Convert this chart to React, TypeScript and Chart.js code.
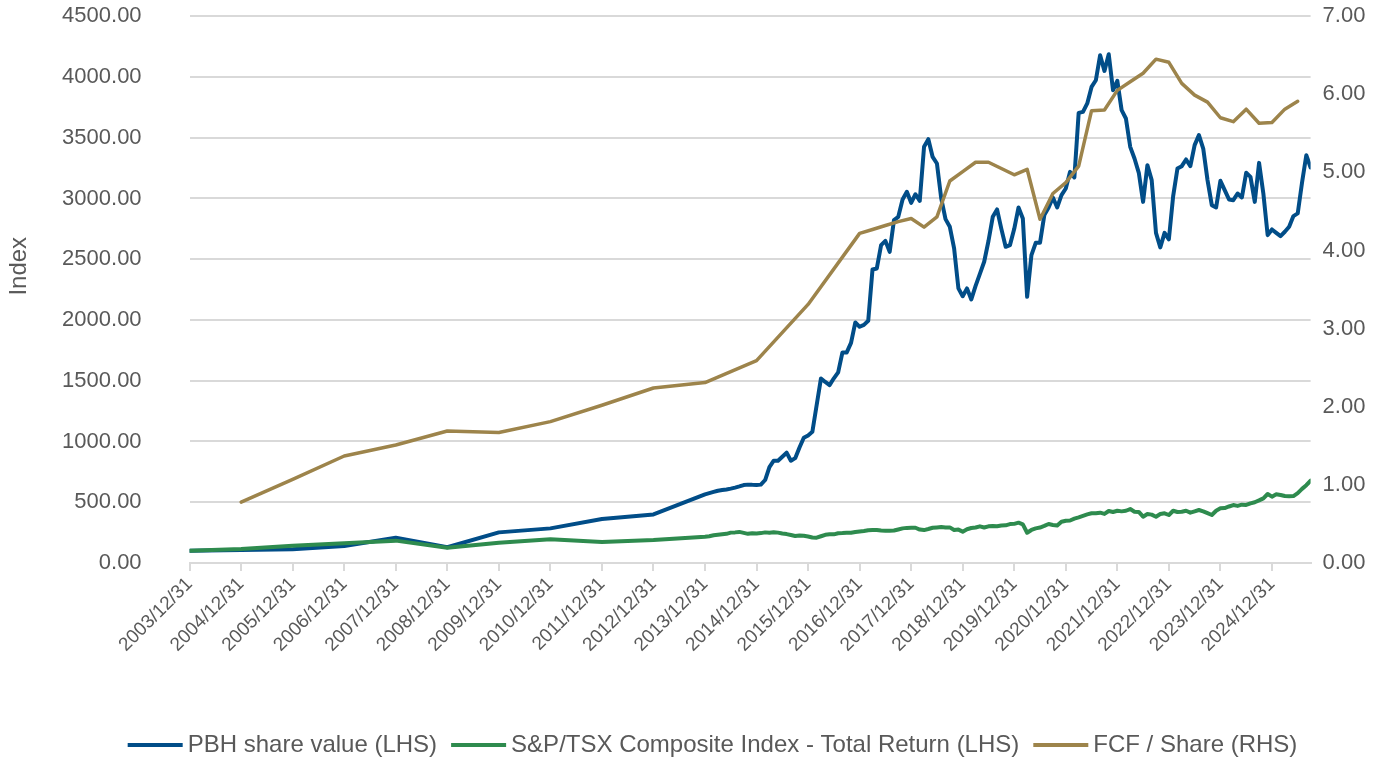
import React, { useEffect, useRef } from "react";
import { Chart, registerables } from "chart.js";

Chart.register(...registerables);

// ---- Data ----
const xTickLabels = [
  "2003/12/31", "2004/12/31", "2005/12/31", "2006/12/31", "2007/12/31", "2008/12/31",
  "2009/12/31", "2010/12/31", "2011/12/31", "2012/12/31", "2013/12/31", "2014/12/31",
  "2015/12/31", "2016/12/31", "2017/12/31", "2018/12/31", "2019/12/31", "2020/12/31",
  "2021/12/31", "2022/12/31", "2023/12/31", "2024/12/31",
];

const annualDates = [
  "2003/12", "2004/12", "2005/12", "2006/12", "2007/12", "2008/12",
  "2009/12", "2010/12", "2011/12", "2012/12", "2013/12",
];
const pbhAnnual = [100, 107, 113, 140, 208, 130, 252, 285, 362, 400, 565];
const tsxAnnual = [100, 115, 142, 162, 184, 126, 167, 195, 173, 189, 216];

const monthlyStart = "2014/01";
const monthlyEnd = "2025/09";

const pbhMonthly = [
  // 2014
  575, 585, 595, 600, 605, 612, 620, 630, 641, 645, 643, 642,
  // 2015
  645, 683, 790, 842, 842, 875, 908, 842, 863, 950, 1031, 1050,
  // 2016
  1080, 1300, 1519, 1490, 1464, 1520, 1569, 1733, 1733, 1812, 1980, 1944,
  // 2017
  1960, 1993, 2416, 2424, 2616, 2651, 2561, 2822, 2849, 2992, 3055, 2964,
  // 2018
  3035, 2980, 3425, 3488, 3342, 3288, 3000, 2830, 2767, 2589, 2260, 2196,
  // 2019
  2260, 2169, 2280, 2380, 2479, 2650, 2849, 2910, 2750, 2602, 2616, 2750,
  // 2020
  2926, 2836, 2191, 2534, 2635, 2635, 2863, 2926, 3008, 2926, 3027, 3082,
  // 2021
  3219, 3173, 3704, 3713, 3782, 3918, 3973, 4179, 4050, 4187, 3891, 3968,
  // 2022
  3727, 3658, 3425, 3329, 3211, 2972, 3274, 3151, 2717, 2597, 2717, 2663,
  // 2023
  3019, 3247, 3266, 3321, 3266, 3439, 3521, 3411, 3151, 2945, 2926, 3145,
  // 2024
  3068, 2992, 2986, 3041, 3008, 3211, 3178, 2972, 3293, 3041, 2698, 2745,
  // 2025
  2717, 2690, 2726, 2767, 2855, 2877, 3129, 3356, 3255,
];

const tsxMonthly = [
  // 2014
  220, 228, 232, 236, 240, 250, 252, 256, 248, 240, 245, 242,
  // 2015
  246, 252, 249, 253, 250, 243, 238, 230, 222, 227, 224, 218,
  // 2016
  210, 208, 220, 232, 236, 236, 245, 246, 248, 249, 255, 260,
  // 2017
  264, 270, 271, 272, 268, 266, 265, 267, 276, 285, 289, 290,
  // 2018
  290, 275, 271, 280, 290, 293, 296, 293, 293, 272, 275, 258,
  // 2019
  278, 288, 292, 302, 292, 302, 304, 302, 308, 310, 320, 322,
  // 2020
  332, 318, 249, 272, 285, 292, 305, 321, 313, 308, 340, 348,
  // 2021
  350, 365, 376, 388, 400, 409, 410, 414, 404, 428, 420, 430,
  // 2022
  425, 430, 444, 422, 420, 381, 403, 398, 381, 403, 409, 395,
  // 2023
  430, 420, 422, 430, 414, 425, 436, 425, 410, 395, 430, 450,
  // 2024
  452, 465, 477, 470, 480, 478, 491, 500, 515, 532, 568, 546,
  // 2025
  565, 560, 551, 550, 551, 575, 610, 640, 677,
];

const fcfDates = [
  "2004/12", "2005/12", "2006/12", "2007/12", "2008/12", "2009/12", "2010/12",
  "2011/12", "2012/12", "2013/12", "2014/12", "2015/12", "2016/12",
  "2017/03", "2017/06", "2017/09", "2017/12",
  "2018/03", "2018/06", "2018/09", "2018/12",
  "2019/03", "2019/06", "2019/09", "2019/12",
  "2020/03", "2020/06", "2020/09", "2020/12",
  "2021/03", "2021/06", "2021/09", "2021/12",
  "2022/03", "2022/06", "2022/09", "2022/12",
  "2023/03", "2023/06", "2023/09", "2023/12",
  "2024/03", "2024/06", "2024/09", "2024/12",
  "2025/03", "2025/06",
];
const fcfValues = [
  0.78, 1.07, 1.37, 1.51, 1.69, 1.67, 1.81,
  2.02, 2.24, 2.31, 2.59, 3.31, 4.22,
  4.27, 4.32, 4.37, 4.41,
  4.30, 4.43, 4.89, 5.01,
  5.13, 5.13, 5.05, 4.97,
  5.04, 4.40, 4.73, 4.87,
  5.08, 5.79, 5.80, 6.05,
  6.16, 6.27, 6.45, 6.41,
  6.14, 5.99, 5.90, 5.70,
  5.65, 5.81, 5.63, 5.64,
  5.81, 5.91,
];

// ---- helpers ----
function toYear(d: string): number {
  const [y, m] = d.split("/").map(Number);
  return y + m / 12;
}
function monthRange(start: string, end: string): string[] {
  const out: string[] = [];
  let [y, m] = start.split("/").map(Number);
  const [ey, em] = end.split("/").map(Number);
  while (y < ey || (y === ey && m <= em)) {
    out.push(`${y}/${String(m).padStart(2, "0")}`);
    m++;
    if (m > 12) { m = 1; y++; }
  }
  return out;
}

const monthlyDates = monthRange(monthlyStart, monthlyEnd);
const pbhDates = [...annualDates, ...monthlyDates];
const pbhValues = [...pbhAnnual, ...pbhMonthly];
const tsxDates = [...annualDates, ...monthlyDates];
const tsxValues = [...tsxAnnual, ...tsxMonthly];

const toPoints = (dates: string[], vals: number[]) =>
  dates.map((d, i) => ({ x: toYear(d), y: vals[i] }));

const xTickValues = xTickLabels.map((l) => Number(l.slice(0, 4)) + 1);

const BLUE = "#014d88";
const GREEN = "#2e8b4e";
const GOLD = "#9d844b";
const GRID = "#d9d9d9";
const TEXT = "#595959";
const FONT = "'Liberation Sans', Arial, sans-serif";

export default function App() {
  const ref = useRef<HTMLCanvasElement>(null);

  useEffect(() => {
    if (!ref.current) return;
    const legendTweak = {
      id: "legendTweak",
      afterLayout(chart: any) {
        const l = chart.legend;
        if (l) {
          l.left += 25; l.right += 25;
          l.top += 9; l.bottom += 9;
        }
      },
      afterDraw(chart: any) {
        const l = chart.legend;
        if (!l || !l.legendHitBoxes) return;
        const ctx = chart.ctx;
        const items = l.legendItems || [];
        ctx.save();
        l.legendHitBoxes.forEach((hb: any, i: number) => {
          const it = items[i];
          if (!it) return;
          ctx.fillStyle = it.strokeStyle;
          const cy = hb.top + hb.height / 2;
          ctx.fillRect(hb.left - 2, cy - 2, 55, 4);
        });
        ctx.restore();
      },
    };
    const chart = new Chart(ref.current, {
      type: "line",
      data: {
        datasets: [
          {
            label: "PBH share value (LHS)",
            data: toPoints(pbhDates, pbhValues),
            borderColor: BLUE,
            backgroundColor: BLUE,
            borderWidth: 4,
            pointRadius: 0,
            yAxisID: "y",
            order: 3,
          },
          {
            label: "S&P/TSX Composite Index - Total Return (LHS)",
            data: toPoints(tsxDates, tsxValues),
            borderColor: GREEN,
            backgroundColor: GREEN,
            borderWidth: 4,
            pointRadius: 0,
            yAxisID: "y",
            order: 2,
          },
          {
            label: "FCF / Share (RHS)",
            data: toPoints(fcfDates, fcfValues),
            borderColor: GOLD,
            backgroundColor: GOLD,
            borderWidth: 3.5,
            pointRadius: 0,
            yAxisID: "y1",
            order: 1,
          },
        ],
      },
      options: {
        animation: false,
        responsive: true,
        maintainAspectRatio: false,
        layout: { padding: { top: 16, left: 0, right: 0, bottom: 0 } },
        elements: {
          line: { tension: 0, borderJoinStyle: "round", borderCapStyle: "round" },
        },
        plugins: {
          tooltip: { enabled: false },
          legend: {
            position: "bottom",
            labels: {
              font: { family: FONT, size: 24 },
              color: TEXT,
              boxWidth: 46,
              boxHeight: 4,
              padding: 16,
              sort: (a: any, b: any) => a.datasetIndex - b.datasetIndex,
              generateLabels: (c: any) =>
                Chart.defaults.plugins.legend.labels
                  .generateLabels(c)
                  .map((it: any) => ({ ...it, lineWidth: 0, fillStyle: "rgba(0,0,0,0)" })),
            },
          },
        },
        scales: {
          x: {
            type: "linear",
            min: toYear(annualDates[0]),
            max: toYear(monthlyEnd),
            afterBuildTicks: (s: any) => {
              s.ticks = xTickValues.map((v) => ({ value: v }));
            },
            afterFit: (s: any) => {
              s.height = 145;
            },
            ticks: {
              autoSkip: false,
              minRotation: 45,
              maxRotation: 45,
              padding: 2,
              color: TEXT,
              font: { family: FONT, size: 19 },
              callback: (v: any) => {
                const i = xTickValues.indexOf(Math.round(Number(v)));
                return i >= 0 ? xTickLabels[i] : "";
              },
            },
            grid: {
              drawOnChartArea: false,
              drawTicks: true,
              tickLength: 8,
              color: GRID,
              lineWidth: 2,
            },
            border: { display: true, color: GRID, width: 2 },
          },
          y: {
            position: "left",
            min: 0,
            max: 4500,
            afterFit: (s: any) => {
              s.width = 189.6;
            },
            ticks: {
              stepSize: 500,
              padding: 3,
              color: TEXT,
              font: { family: FONT, size: 22 },
              callback: (v: any) => Number(v).toFixed(2),
            },
            grid: {
              color: GRID,
              lineWidth: 2,
              drawTicks: true,
              tickLength: 45,
              tickColor: "rgba(0,0,0,0)",
            },
            border: { display: false },
            title: {
              display: true,
              text: "       Index",
              color: TEXT,
              font: { family: FONT, size: 24 },
              padding: { top: 5, bottom: 0 },
            },
          },
          y1: {
            position: "right",
            min: 0,
            max: 7,
            afterFit: (s: any) => {
              s.width = 1377 - 1310.6;
            },
            ticks: {
              stepSize: 1,
              padding: 3,
              color: TEXT,
              font: { family: FONT, size: 22 },
              callback: (v: any) => Number(v).toFixed(2),
            },
            grid: {
              drawOnChartArea: false,
              drawTicks: true,
              tickLength: 9,
              tickColor: "rgba(0,0,0,0)",
            },
            border: { display: false },
          },
        },
      },
      plugins: [legendTweak],
    } as any);
    return () => chart.destroy();
  }, []);

  return (
    <div
      style={{
        position: "fixed",
        left: 0,
        top: 0,
        width: 1377,
        height: 758,
        background: "#ffffff",
      }}
    >
      <canvas ref={ref} />
    </div>
  );
}
